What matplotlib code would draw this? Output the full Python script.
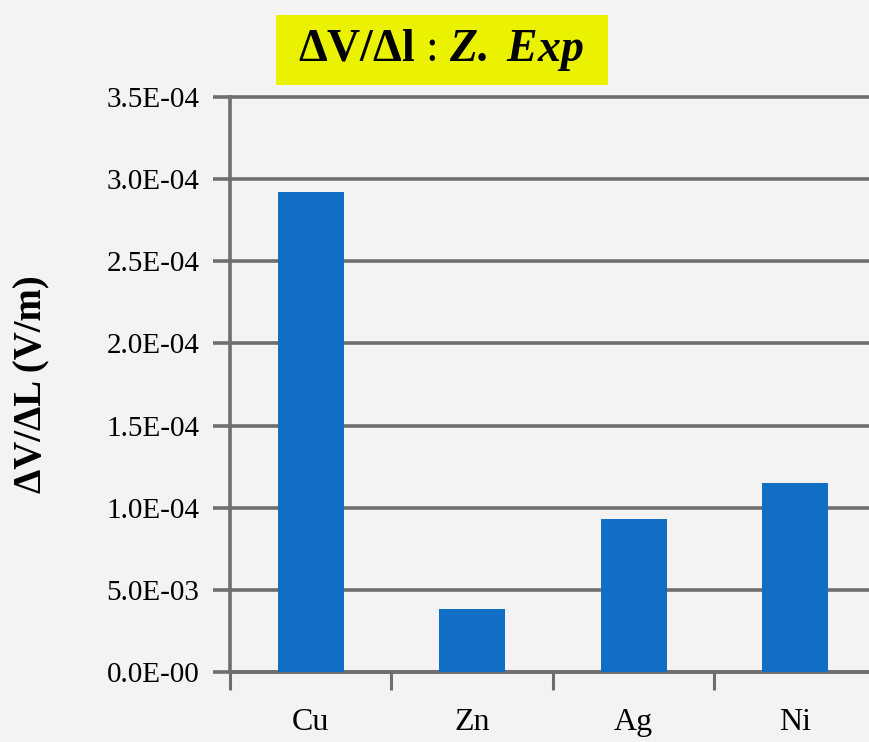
import matplotlib
matplotlib.use("Agg")
import matplotlib.pyplot as plt
from matplotlib.ticker import FixedLocator, FixedFormatter
from matplotlib.patches import Rectangle

categories = ["Cu", "Zn", "Ag", "Ni"]
values = [2.92e-4, 3.85e-5, 9.3e-5, 1.15e-4]
ytick_values = [0.0, 5e-5, 1e-4, 1.5e-4, 2e-4, 2.5e-4, 3e-4, 3.5e-4]
ytick_labels = ["0.0E-00", "5.0E-03", "1.0E-04", "1.5E-04", "2.0E-04",
                "2.5E-04", "3.0E-04", "3.5E-04"]
title_text = r"$\mathbf{\Delta V/\Delta l}$ : $\mathbfit{Z.\ Exp}$"
ylabel_text = "ΔV/ΔL (V/m)"

bg = "#f3f3f3"
grid_c = "#6e6e6e"
bar_c = "#106ec5"

plt.rcParams["font.family"] = ["Liberation Serif", "DejaVu Serif"]
plt.rcParams["mathtext.fontset"] = "custom"
plt.rcParams["mathtext.rm"] = "Liberation Serif"
plt.rcParams["mathtext.bf"] = "Liberation Serif:bold"
plt.rcParams["mathtext.it"] = "Liberation Serif:italic"
plt.rcParams["mathtext.bfit"] = "Liberation Serif:bold:italic"

fig = plt.figure(figsize=(8.7, 7.42), dpi=100, facecolor=bg)
ax = fig.add_axes([230 / 870, 1 - 672 / 742, 646 / 870, 575 / 742])
ax.set_facecolor(bg)

x = list(range(len(categories)))
ax.bar(x, values, width=0.41, color=bar_c, zorder=3)

ax.set_xlim(-0.5, len(categories) - 0.5)
ax.set_ylim(0, 3.5e-4)
ax.yaxis.set_major_locator(FixedLocator(ytick_values))
ax.yaxis.set_major_formatter(FixedFormatter(ytick_labels))
ax.set_xticks(x)
ax.set_xticklabels(categories)
ax.set_xticks([i - 0.5 for i in range(len(categories) + 1)], minor=True)

ax.grid(axis="y", color=grid_c, linewidth=2.6, zorder=1)
for gl in ax.get_ygridlines():
    gl.set_clip_on(False)
ax.tick_params(axis="y", which="major", length=12, width=2.6, color=grid_c,
               labelsize=21, pad=10, labelcolor="black")
ax.tick_params(axis="x", which="major", length=0, labelsize=23, pad=26)
ax.tick_params(axis="x", which="minor", length=13, width=2.2, color=grid_c)

for s in ["top", "right"]:
    ax.spines[s].set_visible(False)
ax.spines["left"].set_color(grid_c)
ax.spines["left"].set_linewidth(2.6)
ax.spines["bottom"].set_color(grid_c)
ax.spines["bottom"].set_linewidth(2.6)

ax.set_ylabel(ylabel_text, fontsize=28, fontweight="bold")
ax.yaxis.set_label_coords(-0.278, 0.5)

fig.add_artist(Rectangle((276 / 870, 1 - 85 / 742), 332 / 870, 70 / 742,
                         transform=fig.transFigure, facecolor="#eaf200",
                         edgecolor="none"))
fig.text(441 / 870, 1 - 50 / 742, title_text, fontsize=33, ha="center",
         va="center")

fig.savefig("out.png", dpi=100, facecolor=bg)
